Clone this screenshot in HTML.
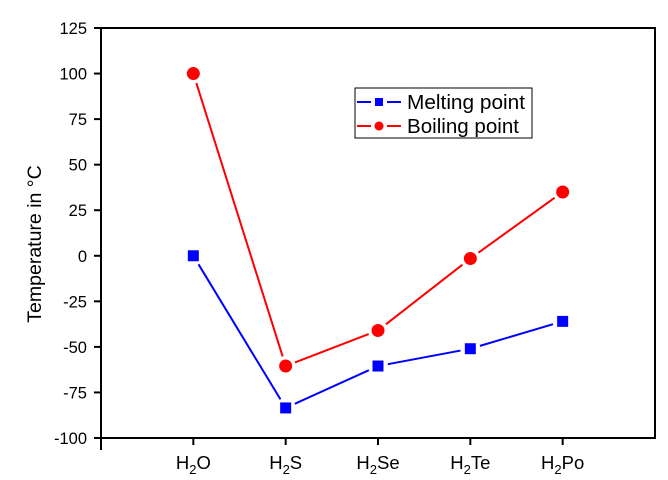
<!DOCTYPE html>
<html><head><meta charset="utf-8"><style>
html,body{margin:0;padding:0;background:#fff;}
svg{display:block;font-family:"Liberation Sans",Arial,sans-serif;}
</style></head><body>
<svg id="chart" width="668" height="480" viewBox="0 0 668 480">
<rect x="101" y="28" width="554" height="410" fill="#fff" stroke="#000" stroke-width="2"/>
<g id="axes"></g>
<g id="series"></g>
<text x="0" y="0" transform="translate(41 244) rotate(-90)" text-anchor="middle" font-size="19.5">Temperature in °C</text>
<g>
<rect x="355" y="88" width="177" height="50" fill="#fff" stroke="#000" stroke-width="1"/>
<g>
<line x1="357" y1="102" x2="371" y2="102" stroke="#00f" stroke-width="2"/>
<rect x="375" y="98" width="8" height="8" fill="#00f"/>
<line x1="387" y1="102" x2="401" y2="102" stroke="#00f" stroke-width="2"/>
<text x="407" y="109" font-size="20" textLength="118" lengthAdjust="spacingAndGlyphs">Melting point</text>
</g>
<g>
<line x1="357" y1="126" x2="371" y2="126" stroke="#f00" stroke-width="2"/>
<circle cx="379" cy="126" r="4.5" fill="#f00"/>
<line x1="387" y1="126" x2="401" y2="126" stroke="#f00" stroke-width="2"/>
<text x="407" y="133" font-size="20" textLength="112" lengthAdjust="spacingAndGlyphs">Boiling point</text>
</g>
</g>
</svg>
<script>
const categories = ["H2O","H2S","H2Se","H2Te","H2Po"];
const meltingValues = [0, -83.5, -60.5, -51, -36];
const boilingValues = [100, -60.5, -41, -1.5, 35];
const yTicks = [125,100,75,50,25,0,-25,-50,-75,-100];

const NS = "http://www.w3.org/2000/svg";
const X0 = 101, X1 = 655, Y0 = 438, Y1 = 28, YMIN = -100, YMAX = 125;
function xScale(i){ return X0 + (i+1)*(X1-X0)/(categories.length+1); }
function yScale(v){ return Y0 - (v-YMIN)/(YMAX-YMIN)*(Y0-Y1); }
function mk(tag, attrs, parent){ const e=document.createElementNS(NS,tag); for(const k in attrs) e.setAttribute(k,attrs[k]); parent.appendChild(e); return e; }

const axes = document.getElementById('axes');
yTicks.forEach(t=>{
  const y = yScale(t);
  const l = mk('line',{x1:94,x2:101,y1:y,y2:y,stroke:'#000','stroke-width':2},axes);
  
  
  const tx = mk('text',{x:87,y:y+6,'text-anchor':'end','font-size':16.5},axes);
  tx.textContent = t;
  
  
});
categories.forEach((c,i)=>{
  const x = xScale(i);
  const l = mk('line',{x1:x,x2:x,y1:438,y2:445,stroke:'#000','stroke-width':2},axes);
  
  
  const tx = mk('text',{x:x,y:469,'text-anchor':'middle','font-size':18.5},axes);
  const m = c.match(/^H2(.*)$/);
  tx.innerHTML = 'H<tspan font-size="13" dy="5">2</tspan><tspan dy="-5">'+m[1]+'</tspan>';
  
  
});
const lt = mk('line',{x1:101,x2:101,y1:438,y2:450,stroke:'#000','stroke-width':2},axes);



const series = document.getElementById('series');
function drawSeries(vals,color,shape,name){
  const g = mk('g',{},series);
  
  
  const pts = vals.map((v,i)=>[xScale(i),yScale(v)]);
  for(let i=0;i<pts.length-1;i++){
    const [ax,ay]=pts[i],[bx,by]=pts[i+1];
    const dx=bx-ax,dy=by-ay,len=Math.hypot(dx,dy),g2=10;
    const l = mk('line',{x1:ax+dx/len*g2,y1:ay+dy/len*g2,x2:bx-dx/len*g2,y2:by-dy/len*g2,stroke:color,'stroke-width':2},g);
    
    
  }
  pts.forEach(([x,y])=>{
    let m;
    if(shape==='square') m = mk('rect',{x:x-5.5,y:y-5.5,width:11,height:11,fill:color},g);
    else m = mk('circle',{cx:x,cy:y,r:6.5,fill:color},g);
    
    
  });
}
drawSeries(meltingValues,'#00f','square','melting');
drawSeries(boilingValues,'#f00','circle','boiling');
</script>
</body></html>
